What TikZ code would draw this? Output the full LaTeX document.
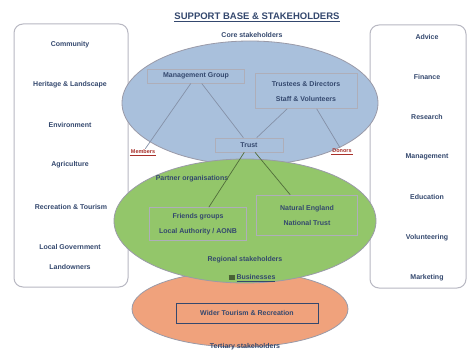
\documentclass[tikz,border=0pt]{standalone}
\usepackage{fontspec}
\setmainfont{Liberation Sans}
\usetikzlibrary{positioning}
\definecolor{sbNavy}{HTML}{34486E}
\definecolor{sbBlue}{HTML}{A9C0DC}
\definecolor{sbGreen}{HTML}{93C66A}
\definecolor{sbOrange}{HTML}{F0A27C}
\definecolor{sbGrey}{HTML}{9A9AA8}
\definecolor{sbRed}{HTML}{A8302A}
\tikzset{
  ring/.style      = {draw=sbGrey, line width=0.8pt},
  panel/.style     = {draw=sbGrey!70, line width=1pt, rounded corners=9pt},
  txt/.style       = {font=\bfseries\fontsize{7}{8}\selectfont, text=sbNavy, inner sep=1pt},
  redtxt/.style    = {font=\bfseries\fontsize{5.5}{6}\selectfont, text=sbRed, inner sep=1pt},
  groupbox/.style  = {draw=sbGrey!80, line width=0.6pt, inner sep=4pt},
  link/.style      = {draw=sbNavy!60, line width=0.7pt},
}

\begin{document}
\begin{tikzpicture}[x=1pt,y=-1pt]
  \useasboundingbox (0,0) rectangle (469,353);
  \fill[white] (0,0) rectangle (469,353);
  % side panels
  \draw[panel] (14,24) rectangle (128,287);
  \draw[panel] (370,25) rectangle (466,288);
  % rings
  \fill[sbOrange, ring] (240,309) ellipse (108 and 38);
  \fill[sbBlue, ring] (250,103) ellipse (128 and 62);
  \fill[sbGreen, ring] (245,221) ellipse (131 and 62);
  % title
  \node[txt, font=\bfseries\fontsize{9.5}{10}\selectfont] (title) at (257,17) {\underline{SUPPORT BASE \& STAKEHOLDERS}};
  \node[txt] (core) at (252,35) {Core stakeholders};
  \node[txt] (tert) at (245,347) {Tertiary stakeholders};
  % left panel
  \node[txt] (comm) at (70,45)  {Community};
  \node[txt] (heri) at (70,85)  {Heritage \& Landscape};
  \node[txt] (envi) at (70,125) {Environment};
  \node[txt] (agri) at (70,165) {Agriculture};
  \node[txt] (busi) at (71,207) {Recreation \& Tourism};
  \node[txt] (govt) at (70,247) {Local Government};
  \node[txt] (land) at (70,267) {Landowners};
  % right panel
  \node[txt] (advi) at (427,37)  {Advice};
  \node[txt] (fina) at (427,77)  {Finance};
  \node[txt] (rese) at (427,117) {Research};
  \node[txt] (mana) at (427,157) {Management};
  \node[txt] (educ) at (427,197) {Education};
  \node[txt] (volu) at (427,238) {Volunteering};
  \node[txt] (mark) at (427,278) {Marketing};
  % blue ring
  \node[txt, groupbox, minimum width=97pt] (mgmt) at (196,76) {Management Group};
  \node[txt, groupbox, align=center, minimum width=102pt, minimum height=35pt] (board) at (306,91)
    {Trustees \& Directors\\[7pt]Staff \& Volunteers};
  \node[txt, groupbox, minimum width=68pt, minimum height=14pt] (trust) at (249,145) {Trust};
  \node[redtxt] (memb) at (143,152) {Members};
  \node[redtxt] (dono) at (342,151) {Donors};
  \draw[sbRed, line width=0.8pt] (memb.south west) -- (memb.south east);
  \draw[sbRed, line width=0.8pt] (dono.south west) -- (dono.south east);
  \draw[link] (mgmt) -- (memb);
  \draw[link] (mgmt) -- (trust);
  \draw[link] (board) -- (trust);
  \draw[link] (board) -- (dono);
  % green ring
  \node[txt] (part) at (192,179) {Partner organisations};
  \node[txt, groupbox, align=center, minimum width=97pt, minimum height=33pt] (local) at (198,224)
    {Friends groups\\[7pt]Local Authority / AONB};
  \node[txt, groupbox, align=center, minimum width=101pt, minimum height=40pt] (natl) at (307,215)
    {Natural England\\[7pt]National Trust};
  \draw[link, draw=sbGreen!55!black] (trust) -- (local);
  \draw[link, draw=sbGreen!55!black] (trust) -- (natl);
  \node[txt] (regi) at (245,260) {Regional stakeholders};
  \node[txt] (tbus) at (252,278) {\textcolor{sbGreen!50!black}{\rule{6pt}{5pt}} \underline{Businesses}};
  % orange ring
  \node[txt, groupbox, draw=sbNavy, minimum width=142pt, minimum height=20pt] (wide) at (247,313)
    {Wider Tourism \& Recreation};
\end{tikzpicture}
\end{document}
